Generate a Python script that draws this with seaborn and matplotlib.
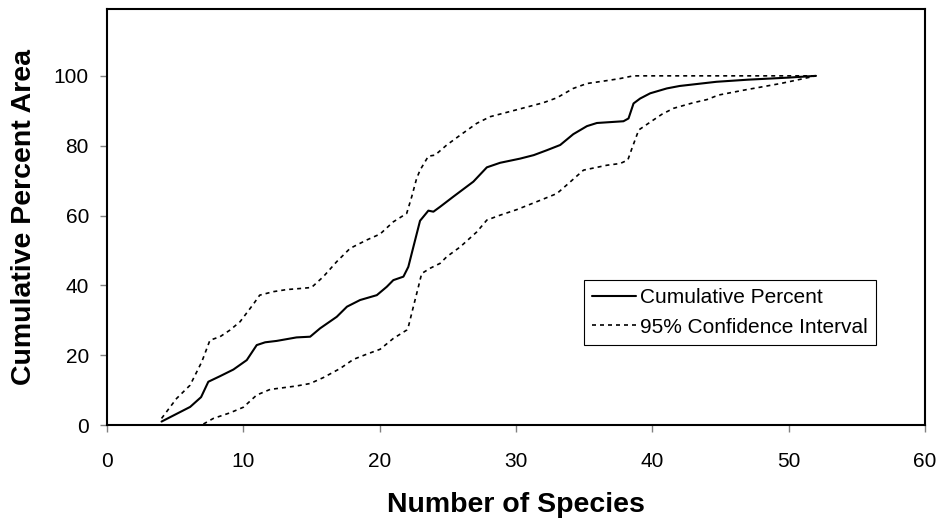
import pandas as pd
import matplotlib
matplotlib.use("Agg")
import matplotlib.pyplot as plt
import seaborn as sns

# ---------- data ----------
cum_x = [4.0, 5.0, 6.1, 6.9, 7.43, 8.29, 9.27, 10.25, 10.98, 11.6, 12.45, 13.9,
         14.9, 15.63, 16.85, 17.6, 18.56, 19.79, 20.52, 21.0, 21.74, 22.1, 22.47,
         22.96, 23.57, 23.94, 24.43, 25.4, 26.87, 27.86, 28.83, 30.3, 31.3, 32.26,
         33.24, 34.2, 35.2, 35.93, 37.88, 38.25, 38.62, 39.1, 39.84, 41.06, 42.0,
         44.7, 47.0, 50.0, 52.0]
cum_y = [1.0, 3.0, 5.2, 8.0, 12.4, 14.0, 15.9, 18.6, 22.9, 23.7, 24.1, 25.1,
         25.3, 27.7, 31.0, 33.9, 35.8, 37.2, 39.6, 41.5, 42.5, 45.3, 51.0,
         58.5, 61.4, 61.1, 62.5, 65.4, 69.7, 73.8, 75.1, 76.3, 77.3, 78.7,
         80.2, 83.3, 85.6, 86.5, 87.0, 87.8, 92.1, 93.5, 95.0, 96.4, 97.1,
         98.3, 98.9, 99.5, 100.0]

upper_x = [4.0, 5.1, 6.09, 6.95, 7.55, 8.29, 9.02, 9.76, 10.73, 11.2, 12.2, 13.18,
           14.16, 15.0, 15.87, 16.85, 17.83, 19.05, 20.03, 21.0, 21.98, 22.35,
           22.7, 22.96, 23.57, 24.06, 24.92, 25.9, 27.12, 28.1, 30.06, 32.0,
           32.99, 34.2, 35.2, 36.6, 37.6, 38.6, 45.0, 52.0]
upper_y = [1.9, 7.6, 11.4, 18.1, 24.3, 25.3, 27.2, 29.6, 34.6, 37.2, 38.2, 38.8,
           39.1, 39.4, 42.5, 46.8, 50.6, 53.0, 54.7, 58.2, 60.6, 65.4,
           70.5, 73.0, 77.0, 77.3, 80.2, 83.0, 86.4, 88.3, 90.3, 92.3,
           93.7, 96.4, 97.8, 98.6, 99.2, 100.0, 100.0, 100.0]

lower_x = [7.07, 7.8, 9.02, 10.0, 10.98, 11.96, 13.92, 14.9, 15.87, 17.1, 18.07,
           19.05, 20.03, 21.0, 21.98, 22.1, 22.47, 22.84, 23.08, 23.7, 24.43,
           24.92, 25.9, 27.12, 27.86, 28.83, 30.06, 31.8, 33.0, 33.85, 34.95,
           36.66, 37.64, 38.2, 38.5, 39.0, 39.9, 40.7, 41.55, 43.0, 44.0, 44.85,
           46.7, 49.4, 50.6, 52.0]
lower_y = [0.3, 1.9, 3.5, 5.1, 8.6, 10.2, 11.2, 11.9, 13.6, 16.2, 18.8,
           20.3, 21.7, 24.8, 27.2, 28.1, 33.9, 39.6, 43.4, 44.9, 46.3,
           48.2, 51.0, 55.3, 58.7, 60.1, 61.7, 64.4, 66.3, 69.2, 73.0,
           74.4, 74.9, 75.9, 79.2, 84.5, 86.9, 89.0, 90.7, 92.3, 93.2, 94.5,
           95.9, 97.8, 98.8, 100.0]

x_ticks = [0, 10, 20, 30, 40, 50, 60]
y_ticks = [0, 20, 40, 60, 80, 100]

cum = pd.DataFrame({"species": cum_x, "pct": cum_y})
upper = pd.DataFrame({"species": upper_x, "pct": upper_y})
lower = pd.DataFrame({"species": lower_x, "pct": lower_y})

# ---------- style ----------
sns.set_style("white")
plt.rcParams["font.family"] = ["Liberation Sans", "DejaVu Sans"]
plt.rcParams["text.color"] = "black"
plt.rcParams["axes.labelcolor"] = "black"
plt.rcParams["xtick.labelcolor"] = "black"
plt.rcParams["ytick.labelcolor"] = "black"

fig = plt.figure(figsize=(9.42, 5.19), dpi=100)
ax = fig.add_axes([0.1136, 0.181, 0.982 - 0.1136, 0.9817 - 0.181])

dash = (0, (2.4, 2.4))
sns.lineplot(data=cum, x="species", y="pct", sort=False, estimator=None,
             color="black", linewidth=1.5, label="Cumulative Percent", ax=ax)
sns.lineplot(data=upper, x="species", y="pct", sort=False, estimator=None,
             color="black", linewidth=1.2, linestyle=dash,
             label="95% Confidence Interval", ax=ax)
sns.lineplot(data=lower, x="species", y="pct", sort=False, estimator=None,
             color="black", linewidth=1.2, linestyle=dash,
             label="_nolegend_", ax=ax)

ax.set_xlim(0, 60)
ax.set_ylim(0, 119)
ax.set_xticks(x_ticks)
ax.set_yticks(y_ticks)
ax.set_xlabel("Number of Species", fontsize=20.5, fontweight="bold",
              labelpad=15, color="black")
ax.set_ylabel("Cumulative Percent Area", fontsize=20.5, fontweight="bold",
              labelpad=12, color="black")

ax.tick_params(axis="both", which="major", labelsize=15, direction="out",
               length=5, width=1, color="#808080", labelcolor="black",
               left=True, bottom=True)
ax.tick_params(axis="x", pad=14.5)
ax.tick_params(axis="y", pad=8)

for s in ax.spines.values():
    s.set_color("black")
    s.set_linewidth(1.5)

leg = ax.legend(loc="upper left", bbox_to_anchor=(0.5831, 0.349),
                borderaxespad=0, fontsize=15, frameon=True, fancybox=False,
                edgecolor="black", handlelength=2.1, handletextpad=0.2,
                labelspacing=0.5, borderpad=0.4)
leg.get_frame().set_linewidth(0.8)
leg.get_frame().set_alpha(1)
for t in leg.get_texts():
    t.set_color("black")

fig.savefig("out.png", dpi=100)
